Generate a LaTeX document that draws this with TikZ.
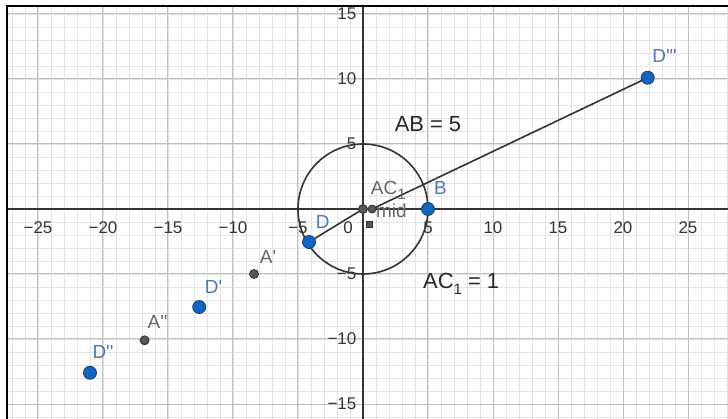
\documentclass[tikz,border=0pt]{standalone}
\usepackage{fontspec}
\setmainfont{Liberation Sans}
\definecolor{ptblue}{HTML}{1565C0}
\definecolor{lblblue}{HTML}{4A78B8}
\definecolor{ptgrey}{HTML}{555555}
\definecolor{minorgrid}{HTML}{E4E4E4}
\definecolor{majorgrid}{HTML}{C0C0C0}
\newcommand{\pr}{\textquotesingle}
\newcommand{\subone}{\raisebox{-0.45ex}{\fontsize{15}{15}\selectfont 1}}
\tikzset{
  bluept/.style={circle,fill=ptblue,draw=ptblue!60!black,line width=0.8bp,inner sep=0pt,minimum size=13bp},
  greypt/.style={circle,fill=ptgrey,draw=ptgrey!60!black,line width=0.8bp,inner sep=0pt,minimum size=9bp},
  ticklbl/.style={text=black!80,font=\fontsize{17}{17}\selectfont,inner sep=0pt},
  ptlbl/.style={font=\fontsize{19}{19}\selectfont,inner sep=0pt},
}
\begin{document}
\begin{tikzpicture}[>=stealth,x=13bp,y=13bp,declare function={xmin=-27.923;xmax=28.077;ymin=-16.154;ymax=16.077;fx=-27.4;fy=15.6;}]
			\useasboundingbox (xmin,ymin) rectangle (xmax,ymax);
			\begin{scope}
			\clip (fx,ymin) rectangle (xmax,fy);
			\draw[minorgrid,line width=0.8bp] (-28,-17) grid[step=1] (29,16);
			\draw[majorgrid,line width=1bp] (-30,-20) grid[step=5] (30,20);
			\end{scope}
			\draw[black!80,line width=1.4bp] (fx,0) -- (xmax,0);
			\draw[black!80,line width=1.4bp] (0,ymin) -- (0,fy);
			\draw[black,line width=2bp] (fx,ymin) -- (fx,fy) -- (xmax,fy);
			\foreach \x/\t in {-25/−25,-20/−20,-15/−15,-10/−10,-5/−5,5/5,10/10,15/15,20/20,25/25}
				\node[ticklbl] (tx\x) at (\x,-1.45) {\t};
			\foreach \y/\t in {15/15,10/10,5/5,-5/−5,-10/−10,-15/−15}
				\node[ticklbl,anchor=east] (ty\y) at (-0.5,\y) {\t};
			\node[ticklbl] (zero) at (-1.15,-1.46) {0};
			% circle and segments
			\coordinate (O) at (0,0);
			\draw[black!80,line width=1.6bp] (O) circle (5);
			\coordinate (D) at (-4.15,-2.54);
			\coordinate (M) at (0.7,0);
			\coordinate (Dt) at (21.9,10.1);
			\draw[black!80,line width=1.6bp] (D) -- (O);
			\draw[black!80,line width=1.6bp] (M) -- (Dt);
			% points
			\node[greypt] (o) at (O) {};
			\node[greypt,minimum size=8bp] (m) at (M) {};
			\node[fill=ptgrey,draw=ptgrey!60!black,inner sep=0pt,minimum size=6bp] (c) at (0.46,-1.15) {};
			\node[greypt] (a1) at (-8.38,-5.0) {};
			\node[greypt] (a2) at (-16.8,-10.1) {};
			\node[bluept] (b) at (5,0) {};
			\node[bluept] (d) at (D) {};
			\node[bluept] (d1) at (-12.6,-7.54) {};
			\node[bluept] (d2) at (-21,-12.6) {};
			\node[bluept] (d3) at (Dt) {};
			% labels
			\node[ptlbl,text=lblblue] (lb) at (5.95,1.6) {B};
			\node[ptlbl,text=lblblue] (ld) at (-3.1,-1.0) {D};
			\node[ptlbl,text=lblblue] (ld1) at (-11.5,-6.0) {D\pr};
			\node[ptlbl,text=lblblue] (ld2) at (-20.0,-11.0) {D\pr\pr};
			\node[ptlbl,text=lblblue] (ld3) at (23.2,11.8) {D\pr\pr\pr};
			\node[ptlbl,text=black!60] (la1) at (-7.3,-3.7) {A\pr};
			\node[ptlbl,text=black!60] (la2) at (-15.8,-8.7) {A\pr\pr};
			\node[ptlbl,text=black!60,anchor=west] (lac) at (0.6,1.45) {AC\subone};
			\node[ptlbl,text=black!60,anchor=west] (lm) at (1.0,-0.15) {mid};
			\node[ptlbl,text=black!85,font=\fontsize{22}{22}\selectfont] (ab) at (5.0,6.55) {AB = 5};
			\node[ptlbl,text=black!85,font=\fontsize{22}{22}\selectfont] (ac) at (7.55,-5.75) {AC\subone{} = 1};
		\end{tikzpicture}
\end{document}
